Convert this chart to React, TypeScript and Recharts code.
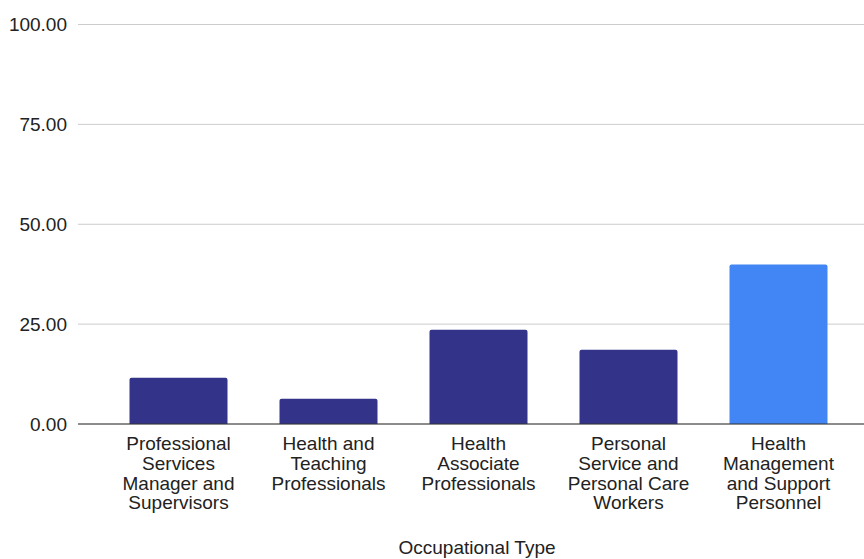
import { BarChart, Bar, XAxis, YAxis, CartesianGrid, Cell } from 'recharts';

const categories = [
  'Professional Services Manager and Supervisors',
  'Health and Teaching Professionals',
  'Health Associate Professionals',
  'Personal Service and Personal Care Workers',
  'Health Management and Support Personnel',
];

// how each category name wraps under the axis
const labelLines = [
  ['Professional', 'Services', 'Manager and', 'Supervisors'],
  ['Health and', 'Teaching', 'Professionals'],
  ['Health', 'Associate', 'Professionals'],
  ['Personal', 'Service and', 'Personal Care', 'Workers'],
  ['Health', 'Management', 'and Support', 'Personnel'],
];

const values = [11.6, 6.3, 23.6, 18.6, 39.9];
const yTicks = [0, 25, 50, 75, 100];

const FONT = '"Liberation Sans", Arial, sans-serif';
const TEXT = '#222222';
const NAVY = '#333489';
const HIGHLIGHT = '#4285f4';
const highlightIndex = 4;

const data = categories.map((name, i) => ({ name, value: values[i] }));

function CategoryTick(props: any) {
  const { x, y, index } = props;
  const lines = labelLines[index] || [];
  return (
    <g>
      {lines.map((line, i) => (
        <text
          key={i}
          x={x}
          y={y + 26 + i * 19.8}
          textAnchor="middle"
          fontFamily={FONT}
          fontSize={19}
          fill={TEXT}
        >
          {line}
        </text>
      ))}
    </g>
  );
}

export default function App() {
  return (
    <div style={{ position: 'absolute', left: 0, top: 0, background: '#fff' }}>
      <BarChart
        width={864}
        height={559}
        data={data}
        margin={{ top: 24.5, right: 0, bottom: 0, left: 0 }}
      >
        <CartesianGrid horizontal vertical={false} stroke="#cccccc" />
        <XAxis
          dataKey="name"
          height={135}
          interval={0}
          tickLine={false}
          tickSize={0}
          tickMargin={0}
          axisLine={{ stroke: '#333333' }}
          padding={{ left: 25.5, right: 10.5 }}
          tick={<CategoryTick />}
          label={{
            value: 'Occupational Type',
            position: 'insideBottom',
            offset: 5,
            dx: 6,
            fontFamily: FONT,
            fontSize: 19,
            fill: TEXT,
          }}
        />
        <YAxis
          width={78}
          domain={[0, 100]}
          ticks={yTicks}
          tickFormatter={(v: number) => v.toFixed(2)}
          axisLine={false}
          tickLine={false}
          tickMargin={5}
          tick={{ fontFamily: FONT, fontSize: 19, fill: TEXT }}
        />
        <Bar dataKey="value" barSize={98} radius={[2, 2, 0, 0]} isAnimationActive={false}>
          {data.map((_, i) => (
            <Cell key={i} fill={i === highlightIndex ? HIGHLIGHT : NAVY} />
          ))}
        </Bar>
      </BarChart>
    </div>
  );
}
